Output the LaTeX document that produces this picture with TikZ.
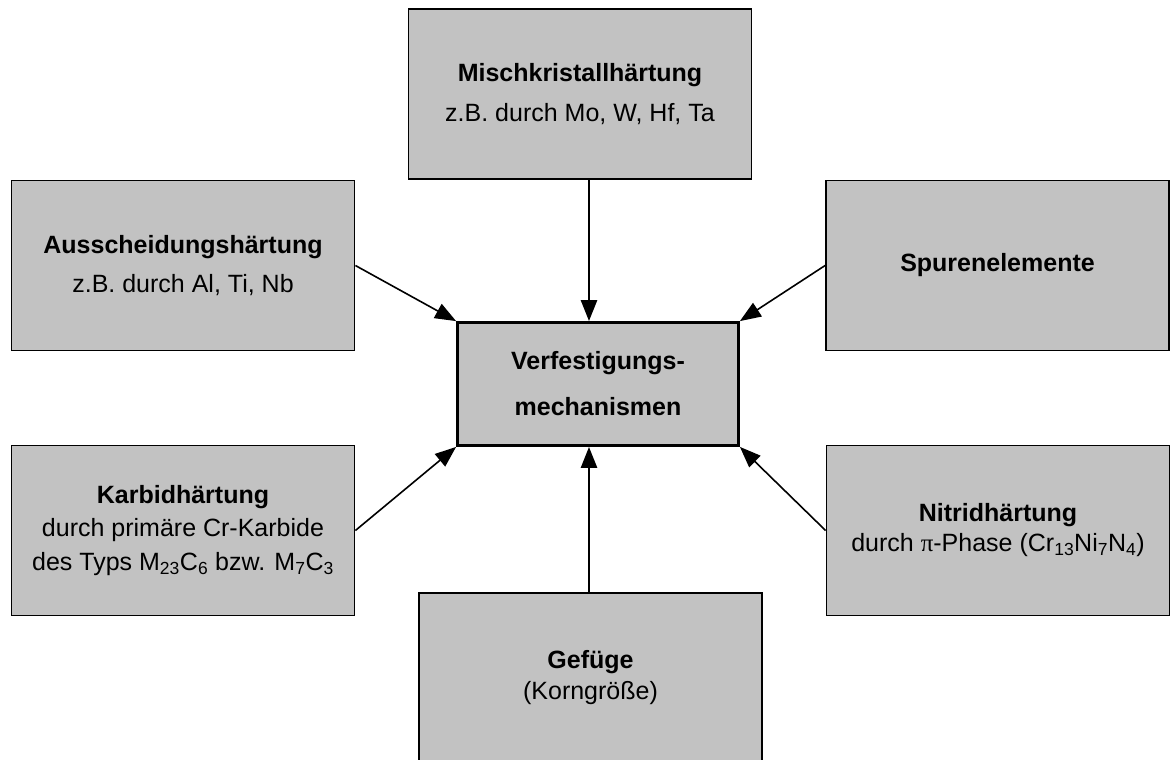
\documentclass[tikz,border=0pt]{standalone}
\usepackage{fontspec}
\setmainfont{Liberation Sans}
\newfontfamily\greekfont{Liberation Serif}
\usepackage{tikz}
\usetikzlibrary{arrows.meta}
\definecolor{boxgray}{RGB}{194,194,194}

\begin{document}
\begin{tikzpicture}[x = 1pt, y = -1pt,
  box/.style = {draw, line width = 1.8pt, fill = boxgray, inner sep = 0pt,
    minimum width = 343pt, minimum height = 170pt, align = center,
    font = \fontsize{25}{28}\selectfont},
  hub/.style = {box, line width = 2.8pt, minimum width = 281pt, minimum height = 123pt},
  feed/.style = {line width = 1.6pt, -{Triangle[length = 21pt, width = 16pt]}},
  mainfeed/.style = {line width = 2.6pt, -{Triangle[length = 21pt, width = 16pt]}}]
\useasboundingbox (0,0) rectangle (1170,760);

\node[hub] (hub) at (598,384) {\textbf{Verfestigungs-}\\[18pt]\textbf{mechanismen}};

\node[box] (misch) at (580,94) {\textbf{Mischkristallhärtung}\\[12pt]z.B. durch Mo, W, Hf, Ta};
\node[box] (aus) at (183,265.5) {\textbf{Ausscheidungshärtung}\\[11pt]z.B. durch Al, Ti, Nb};
\node[box] (spur) at (997.5,265.5) {\textbf{Spurenelemente}};
\node[box] (karbid) at (183,530.5) {\textbf{Karbidhärtung}\\[5.5pt]durch primäre Cr-Karbide\\[5.5pt]des Typs M\textsubscript{23}C\textsubscript{6} bzw. M\textsubscript{7}C\textsubscript{3}};
\node[box] (nitrid) at (998,530.5) {\textbf{Nitridhärtung}\\[2pt]durch {\greekfont π}-Phase (Cr\textsubscript{13}Ni\textsubscript{7}N\textsubscript{4})};
\node[box] (gef) at (590.5,678) {\textbf{Gefüge}\\[3pt](Korngröße)};

% vertical axis of the two straight arrows
\coordinate (axis) at (589,0);

\draw[mainfeed] (misch.south -| axis) -- (hub.north -| axis);
\draw[mainfeed] (gef.north -| axis) -- (hub.south -| axis);
\draw[feed] (aus.east) -- (hub.north west);
\draw[feed] (spur.west) -- (hub.north east);
\draw[feed] (karbid.east) -- (hub.south west);
\draw[feed] (nitrid.west) -- (hub.south east);
\end{tikzpicture}
\end{document}
